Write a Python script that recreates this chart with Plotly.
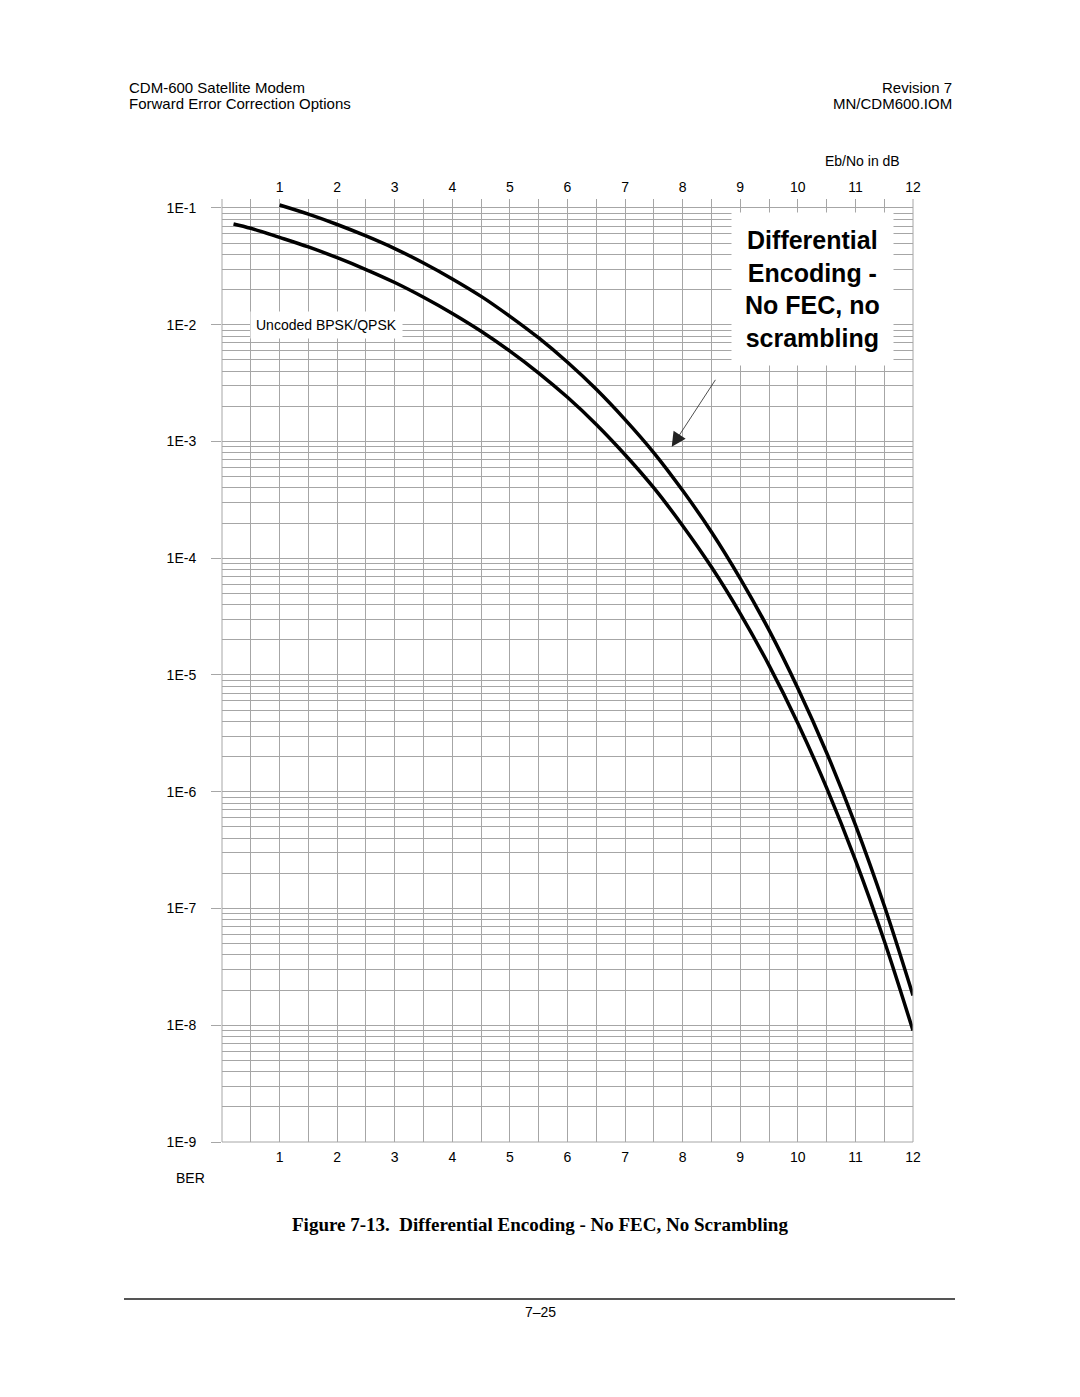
import math
import plotly.graph_objects as go

# ---- data ----
uncoded_ebno = [0.2, 0.5, 1.0, 1.5, 2.0, 2.5, 3.0, 3.5, 4.0, 4.5, 5.0, 5.5, 6.0, 6.5,
                7.0, 7.5, 8.0, 8.5, 9.0, 9.5, 10.0, 10.5, 11.0, 11.5, 12.0]
uncoded_ber = [7.3e-2, 6.7e-2, 5.6e-2, 4.64e-2, 3.75e-2, 2.97e-2, 2.3e-2, 1.72e-2, 1.25e-2,
               8.8e-3, 5.95e-3, 3.86e-3, 2.39e-3, 1.4e-3, 7.7e-4, 4.0e-4, 1.9e-4, 8.4e-5,
               3.36e-5, 1.21e-5, 3.87e-6, 1.08e-6, 2.6e-7, 5.3e-8, 9.0e-9]
diff_ebno = [1.0, 1.5, 2.0, 2.5, 3.0, 3.5, 4.0, 4.5, 5.0, 5.5, 6.0, 6.5, 7.0, 7.5,
             8.0, 8.5, 9.0, 9.5, 10.0, 10.5, 11.0, 11.5, 12.0]
diff_ber = [0.106, 8.85e-2, 7.22e-2, 5.76e-2, 4.49e-2, 3.38e-2, 2.47e-2, 1.75e-2, 1.18e-2,
            7.7e-3, 4.77e-3, 2.8e-3, 1.54e-3, 8.0e-4, 3.8e-4, 1.68e-4, 6.7e-5, 2.42e-5,
            7.7e-6, 2.16e-6, 5.2e-7, 1.06e-7, 1.8e-8]
x_ticks = list(range(1, 13))
y_tickvals = [1e-1, 1e-2, 1e-3, 1e-4, 1e-5, 1e-6, 1e-7, 1e-8, 1e-9]
y_ticktext = ["1E-1", "1E-2", "1E-3", "1E-4", "1E-5", "1E-6", "1E-7", "1E-8", "1E-9"]

# arrow target on the differential curve
arrow_ebno, arrow_ber = 7.81, 9.0e-4

# ---- layout geometry (pixels) ----
W, H = 1080, 1397
L, R, T, B = 222, 913, 199, 1142
FONT = "Arial, Liberation Sans, sans-serif"
GRID = "#a6a6a6"


def px(xp):
    return (xp - L) / (R - L)


def py(yp):
    return (B - yp) / (B - T)


minor_y = [d * 10.0 ** e for e in range(-9, -1 + 1) for d in range(2, 10)]
minor_y = [v for v in minor_y if v < 0.12]

fig = go.Figure()
fig.add_trace(go.Scatter(x=uncoded_ebno, y=uncoded_ber, mode="lines", line_shape="spline",
                         line=dict(color="black", width=3.5), showlegend=False, hoverinfo="skip"))
fig.add_trace(go.Scatter(x=diff_ebno, y=diff_ber, mode="lines", line_shape="spline",
                         line=dict(color="black", width=3.5), showlegend=False, hoverinfo="skip"))
# invisible trace to anchor the top axis
fig.add_trace(go.Scatter(x=[0, 12], y=[1e-9, 1e-9], xaxis="x2", mode="lines",
                         line=dict(color="rgba(0,0,0,0)"), showlegend=False, hoverinfo="skip"))

fig.update_layout(
    width=W, height=H,
    margin=dict(l=L, r=W - R, t=T, b=H - B),
    paper_bgcolor="white", plot_bgcolor="white",
    font=dict(family=FONT, color="black", size=14),
    xaxis=dict(range=[0, 12], tickvals=x_ticks, showgrid=True, gridcolor=GRID, gridwidth=1,
               zeroline=False, showline=False, ticks="", tickfont=dict(size=14),
               minor=dict(dtick=0.5, tick0=0, showgrid=True, gridcolor=GRID, gridwidth=1),
               ticklabelstandoff=5),
    xaxis2=dict(range=[0, 12], overlaying="x", side="top", tickvals=x_ticks, showgrid=False,
                zeroline=False, showline=False, ticks="", tickfont=dict(size=14),
                ticklabelstandoff=3),
    yaxis=dict(type="log", range=[-9, -0.923], tickvals=y_tickvals, ticktext=y_ticktext,
               showgrid=True, gridcolor=GRID, gridwidth=1, zeroline=False, showline=False,
               ticks="outside", ticklen=10, tickcolor=GRID, tickfont=dict(size=14),
               ticklabelstandoff=12,
               minor=dict(tickvals=minor_y, showgrid=True, gridcolor=GRID, gridwidth=1)),
)

HF = 15
ann = []
# header
ann.append(dict(text="CDM-600 Satellite Modem", x=px(127), y=py(87), xanchor="left", yanchor="middle",
                font=dict(size=HF)))
ann.append(dict(text="Forward Error Correction Options", x=px(127), y=py(104), xanchor="left",
                yanchor="middle", font=dict(size=HF)))
ann.append(dict(text="Revision 7", x=px(954), y=py(87), xanchor="right", yanchor="middle",
                font=dict(size=HF)))
ann.append(dict(text="MN/CDM600.IOM", x=px(954), y=py(104), xanchor="right", yanchor="middle",
                font=dict(size=HF)))
# axis titles
ann.append(dict(text="Eb/No in dB", x=px(862), y=py(161), xanchor="center", yanchor="middle",
                font=dict(size=14)))
ann.append(dict(text="BER", x=px(190), y=py(1178), xanchor="center", yanchor="middle",
                font=dict(size=14)))
# labels inside plot
ann.append(dict(text="Uncoded BPSK/QPSK", x=px(326), y=py(325), xanchor="center", yanchor="middle",
                font=dict(size=14), bgcolor="white", borderpad=5))
ann.append(dict(text="<b>Differential<br>Encoding -<br>No FEC, no<br>scrambling</b>",
                x=px(812), y=py(289), xanchor="center", yanchor="middle",
                font=dict(size=25), bgcolor="white", borderpad=13, align="center"))
# caption and footer
ann.append(dict(text="<b>Figure 7-13.  Differential Encoding - No FEC, No Scrambling</b>",
                x=px(540), y=py(1224), xanchor="center", yanchor="middle",
                font=dict(size=19, family="Liberation Serif, Times New Roman, serif")))
ann.append(dict(text="7–25", x=px(540), y=py(1312), xanchor="center", yanchor="middle",
                font=dict(size=14)))
for a in ann:
    a.update(xref="paper", yref="paper", showarrow=False)
    fig.add_annotation(**a)

# arrow pointing at the differential curve (log axis -> annotation y in log10 units)
fig.add_annotation(x=arrow_ebno, y=math.log10(arrow_ber), xref="x", yref="y", ax=45, ay=-69,
                   axref="pixel", ayref="pixel", showarrow=True, arrowhead=2, arrowsize=3.6,
                   arrowwidth=0.8, arrowcolor="#222222", text=" ", font=dict(size=1))

# frame lines: left (x=0), right (x=12), bottom (1E-9)
fig.add_shape(type="line", xref="paper", yref="paper", x0=0, x1=0, y0=0, y1=1,
              line=dict(color=GRID, width=1))
fig.add_shape(type="line", xref="paper", yref="paper", x0=1, x1=1, y0=0, y1=1,
              line=dict(color=GRID, width=1))
fig.add_shape(type="line", xref="paper", yref="paper", x0=0, x1=1, y0=0, y1=0,
              line=dict(color=GRID, width=1))

# footer rule
fig.add_shape(type="line", xref="paper", yref="paper", x0=px(124), x1=px(955), y0=py(1299),
              y1=py(1299), line=dict(color="#555555", width=2))

fig.write_html("out.html")
